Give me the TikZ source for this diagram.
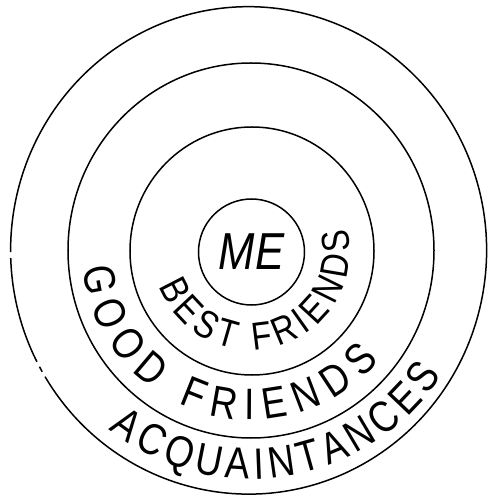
\documentclass[tikz,border=0pt]{standalone}
\usepackage{fontspec}
\usepackage{tikz}
\usetikzlibrary{decorations.text}
\newfontfamily\lettering{Liberation Sans}[FakeStretch=0.84]

\begin{document}
\begin{tikzpicture}[x=1pt,y=1pt,
  ring/.style={line width=1.5pt},
  curved/.style={decorate,decoration={text along path,text align=fit to path,text={#1}}}]
  \useasboundingbox (-251,-246) rectangle (236,251);
  \coordinate (acq) at (-2.4,0.6);
  % outer ring, the pen lifts twice on the left side
  \draw[ring,shift={(acq)}] (211.2:238 and 243.7)
    arc[start angle=211.2,end angle=540.4,x radius=238,y radius=243.7];
  \draw[ring,shift={(acq)}] (181.8:238 and 243.7)
    arc[start angle=181.8,end angle=207.2,x radius=238,y radius=243.7];
  \draw[ring,shift={(acq)}] (208.5:238 and 243.7)
    arc[start angle=208.5,end angle=209.85,x radius=238,y radius=243.7];
  % good friends and best friends rings
  \draw[ring] (0,0.5) ellipse[x radius=183,y radius=187.5];
  \draw[ring] (1,0) ellipse[x radius=122,y radius=124];
  \node[circle,draw,ring,minimum size=106pt,inner sep=0pt,
    font=\lettering\itshape\fontsize{52}{52}\selectfont] (me) at (0.5,-1) {ME};
  % lettering along the rings
  \path[curved={|\lettering\fontsize{39}{39}\selectfont|BEST FRIENDS}]
    (201:99) arc[start angle=201,end angle=373,radius=99];
  \path[curved={|\lettering\fontsize{44}{44}\selectfont|GOOD FRIENDS}]
    (186:169) arc[start angle=186,end angle=319.5,radius=169];
  \path[curved={|\lettering\fontsize{44}{44}\selectfont|ACQUAINTANCES}]
    (231.4:228) arc[start angle=231.4,end angle=327,radius=228];
\end{tikzpicture}
\end{document}
